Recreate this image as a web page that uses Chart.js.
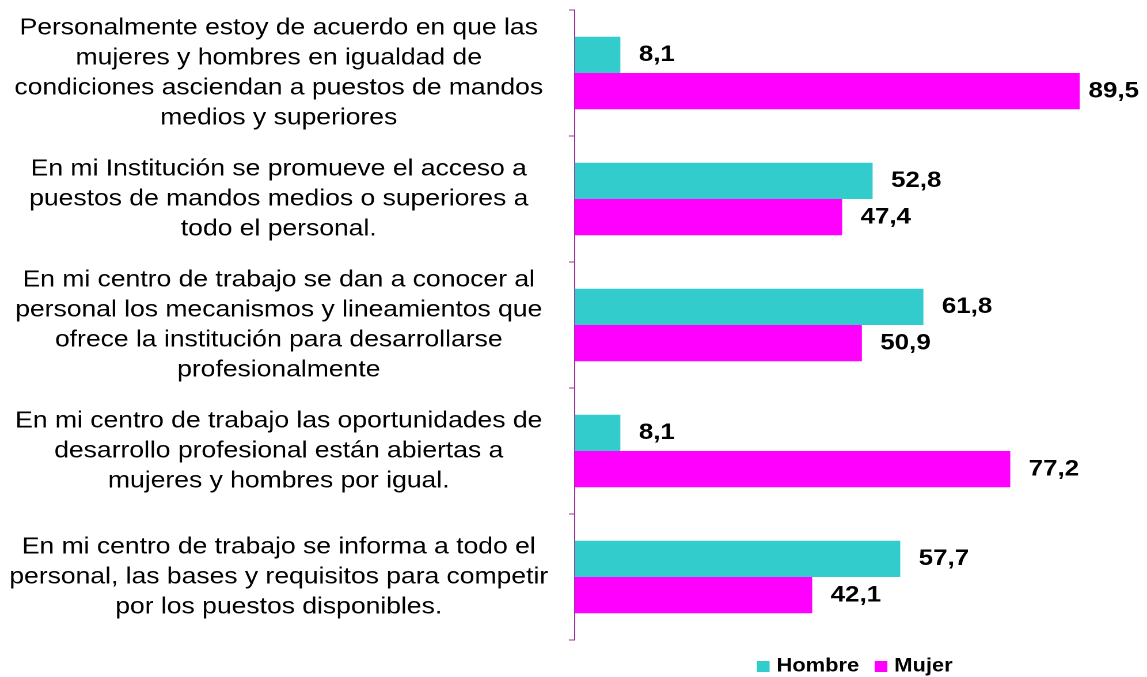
<!DOCTYPE html>
<html>
<head>
<meta charset="utf-8">
<script src="https://cdn.jsdelivr.net/npm/chart.js@4.4.1/dist/chart.umd.min.js"></script>
<style>
  html, body { margin: 0; padding: 0; background: #ffffff; overflow: hidden; }
  /* the reference artwork is horizontally stretched; reproduce by scaling the chart box */
  #wrap { width: 996px; height: 677px; position: relative; transform: scaleX(1.1516); transform-origin: 0 0; }
</style>
</head>
<body>
<div id="wrap"><canvas id="c"></canvas></div>
<script>
const categories = [
  ["Personalmente estoy de acuerdo en que las", "mujeres y hombres en igualdad de", "condiciones asciendan a puestos de mandos", "medios y superiores"],
  ["En mi Institución se promueve el acceso a", "puestos de mandos medios o superiores a", "todo el personal."],
  ["En mi centro de trabajo se dan a conocer al", "personal los mecanismos y lineamientos que", "ofrece la institución para desarrollarse", "profesionalmente"],
  ["En mi centro de trabajo las oportunidades de", "desarrollo profesional están abiertas a", "mujeres y hombres por igual."],
  ["En mi centro de trabajo se informa a todo el", "personal, las bases y requisitos para competir", "por los puestos disponibles."]
];
const hombre = [8.1, 52.8, 61.8, 8.1, 57.7];
const mujer = [89.5, 47.4, 50.9, 77.2, 42.1];
const seriesNames = ["Hombre", "Mujer"];

const FONT = "'Liberation Sans', Arial, sans-serif";
const AXIS_COLOR = '#993399';

const valueLabels = {
  id: 'valueLabels',
  afterDatasetsDraw(chart) {
    const ctx = chart.ctx;
    const area = chart.chartArea;
    ctx.save();
    ctx.font = "bold 22.5px " + FONT;
    ctx.fillStyle = '#000000';
    ctx.textBaseline = 'middle';
    ctx.textAlign = 'left';
    chart.data.datasets.forEach((ds, di) => {
      const meta = chart.getDatasetMeta(di);
      meta.data.forEach((bar, i) => {
        const txt = ds.data[i].toFixed(1).replace('.', ',');
        const w = ctx.measureText(txt).width;
        let x = bar.x + 16;
        if (x + w > area.right) x = area.right - w;
        ctx.fillText(txt, x, bar.y);
      });
    });
    ctx.restore();
  }
};

new Chart(document.getElementById('c'), {
  type: 'bar',
  data: {
    labels: categories,
    datasets: [
      { label: seriesNames[0], data: hombre, backgroundColor: '#33CCCC', borderWidth: 0 },
      { label: seriesNames[1], data: mujer, backgroundColor: '#FF00FF', borderWidth: 0 }
    ]
  },
  options: {
    indexAxis: 'y',
    responsive: true,
    maintainAspectRatio: false,
    devicePixelRatio: 2,
    animation: false,
    layout: { padding: { top: 10, right: 7, left: 0, bottom: 0 } },
    datasets: { bar: { categoryPercentage: 0.576, barPercentage: 1.0 } },
    scales: {
      x: { display: false, min: 0, max: 100 },
      y: {
        afterFit(scale) { scale.width = 499; scale.paddingTop = 0; scale.paddingBottom = 0; },
        border: { display: true, color: AXIS_COLOR, width: 1 },
        grid: { display: true, drawOnChartArea: false, drawTicks: true, tickLength: 5, color: AXIS_COLOR, offset: true },
        ticks: {
          color: '#000000',
          crossAlign: 'center',
          padding: 18,
          autoSkip: false,
          font: { family: FONT, size: 23, lineHeight: 1.304 }
        }
      }
    },
    plugins: {
      legend: {
        position: 'bottom',
        fullSize: false,
        maxHeight: 37,
        labels: {
          usePointStyle: true,
          pointStyle: 'rect',
          boxWidth: 4, boxHeight: 11, padding: 17, color: '#000000',
          font: { family: FONT, size: 19, weight: 'bold' }
        }
      },
      tooltip: { enabled: false }
    }
  },
  plugins: [valueLabels]
});
</script>
</body>
</html>
